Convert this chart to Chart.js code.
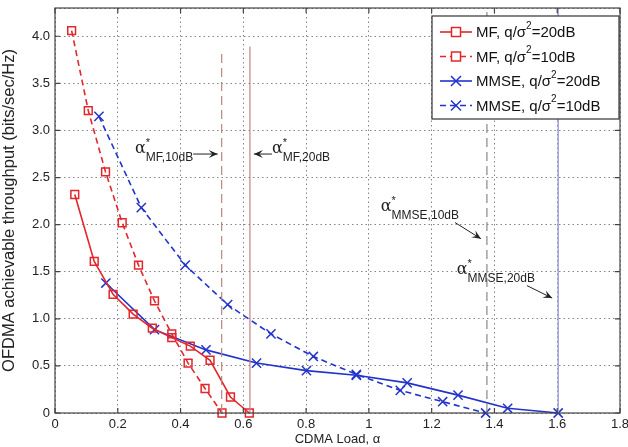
<!DOCTYPE html>
<html>
<head>
<meta charset="utf-8">
<script src="https://cdn.jsdelivr.net/npm/chart.js@4"></script>
<style>
  html, body { margin: 0; padding: 0; background: #fff; }
  #wrap { width: 628px; height: 447px; }
</style>
</head>
<body>
<div id="wrap"><canvas id="c" width="628" height="447"></canvas></div>
<script>
// ---------------------------------------------------------------------------
// DATA
// ---------------------------------------------------------------------------
const mf20X = [0.063, 0.125, 0.185, 0.249, 0.310, 0.372, 0.431, 0.494, 0.559, 0.619];
const mf20Y = [2.32, 1.61, 1.26, 1.05, 0.90, 0.80, 0.71, 0.56, 0.17, 0.0];

const mf10X = [0.053, 0.106, 0.161, 0.214, 0.266, 0.317, 0.372, 0.424, 0.478, 0.532];
const mf10Y = [4.06, 3.21, 2.56, 2.02, 1.57, 1.19, 0.84, 0.53, 0.26, 0.0];

const mmse20X = [0.162, 0.317, 0.481, 0.642, 0.801, 0.960, 1.122, 1.284, 1.442, 1.603];
const mmse20Y = [1.38, 0.885, 0.67, 0.53, 0.45, 0.40, 0.32, 0.19, 0.05, 0.0];

const mmse10X = [0.140, 0.275, 0.415, 0.550, 0.688, 0.823, 0.960, 1.100, 1.235, 1.372];
const mmse10Y = [3.15, 2.18, 1.57, 1.15, 0.84, 0.60, 0.41, 0.24, 0.12, 0.0];

// alpha* thresholds (vertical marker lines) and their top ends
const alphaStarX = [0.531, 0.621, 1.376, 1.603];
const alphaStarTop = [3.84, 3.89, 4.3, 4.3];

const seriesLabels = ['MF, q/σ|2|=20dB', 'MF, q/σ|2|=10dB', 'MMSE, q/σ|2|=20dB', 'MMSE, q/σ|2|=10dB'];

const xMin = 0, xMax = 1.8, xStep = 0.2;
const yMin = 0, yMax = 4.3, yStep = 0.5;

// ---------------------------------------------------------------------------
// helpers
// ---------------------------------------------------------------------------
const RED = '#e3262b';
const BLUE = '#2233cc';
const FONT = '"Liberation Sans", Arial, sans-serif';

function pts(xs, ys) {
    return xs.map((x, i) => ({ x: x, y: ys[i] }));
}

function curve(label, xs, ys, color, dashed, style) {
    return {
        label: label,
        data: pts(xs, ys),
        borderColor: color,
        backgroundColor: 'rgba(0,0,0,0)',
        borderWidth: 1.6,
        borderDash: dashed ? [6, 4] : [],
        pointStyle: style,
        pointRadius: style === 'rect' ? 5.5 : 6.5,
        pointBorderWidth: 1.5,
        pointBorderColor: color,
        pointBackgroundColor: 'rgba(0,0,0,0)',
        showLine: true,
        tension: 0,
        isCurve: true
    };
}

function vline(i, color, dashed, width) {
    return {
        label: 'vline' + i,
        data: [{ x: alphaStarX[i], y: 0 }, { x: alphaStarX[i], y: alphaStarTop[i] }],
        borderColor: color,
        borderWidth: width,
        borderDash: dashed ? [9, 5] : [],
        pointRadius: 0,
        showLine: true,
        isCurve: false
    };
}

// ---------------------------------------------------------------------------
// plugins
// ---------------------------------------------------------------------------

// box around plot area, like matlab "box on"
const frame = {
    id: 'frame',
    afterDatasetsDraw(chart) {
        const { ctx, chartArea: a } = chart;
        ctx.save();
        ctx.strokeStyle = '#444';
        ctx.lineWidth = 1.2;
        ctx.strokeRect(a.left, a.top, a.right - a.left, a.bottom - a.top);
        // inward ticks on all four edges
        const xs = chart.scales.x, ys = chart.scales.y;
        ctx.beginPath();
        for (let v = xMin; v <= xMax + 1e-9; v += xStep) {
            const px = xs.getPixelForValue(v);
            ctx.moveTo(px, a.bottom); ctx.lineTo(px, a.bottom - 5);
            ctx.moveTo(px, a.top); ctx.lineTo(px, a.top + 5);
        }
        for (let v = yMin; v <= 4.0 + 1e-9; v += yStep) {
            const py = ys.getPixelForValue(v);
            ctx.moveTo(a.left, py); ctx.lineTo(a.left + 5, py);
            ctx.moveTo(a.right, py); ctx.lineTo(a.right - 5, py);
        }
        ctx.stroke();
        ctx.restore();
    }
};

function arrowHead(ctx, x0, y0, x1, y1) {
    const ang = Math.atan2(y1 - y0, x1 - x0);
    const L = 9, W = 4;
    ctx.beginPath();
    ctx.moveTo(x1, y1);
    ctx.lineTo(x1 - L * Math.cos(ang) + W * Math.sin(ang), y1 - L * Math.sin(ang) - W * Math.cos(ang));
    ctx.lineTo(x1 - 0.6 * L * Math.cos(ang), y1 - 0.6 * L * Math.sin(ang));
    ctx.lineTo(x1 - L * Math.cos(ang) - W * Math.sin(ang), y1 - L * Math.sin(ang) + W * Math.cos(ang));
    ctx.closePath();
    ctx.fill();
}

function arrow(ctx, x0, y0, x1, y1) {
    ctx.beginPath();
    ctx.moveTo(x0, y0);
    ctx.lineTo(x1, y1);
    ctx.stroke();
    arrowHead(ctx, x0, y0, x1, y1);
}

// alpha* + subscript label; returns end x
function alphaLabel(ctx, x, y, sub) {
    ctx.font = '16px "DejaVu Serif", serif';
    ctx.fillText('α', x, y);
    let w = ctx.measureText('α').width;
    ctx.font = '11px ' + FONT;
    ctx.fillText('*', x + w, y - 7);
    ctx.font = '12px ' + FONT;
    ctx.fillText(sub, x + w, y + 8);
    return x + w + ctx.measureText(sub).width;
}

const notes = {
    id: 'notes',
    afterDatasetsDraw(chart) {
        const { ctx } = chart;
        const xs = chart.scales.x, ys = chart.scales.y;
        const X = v => xs.getPixelForValue(v), Y = v => ys.getPixelForValue(v);
        ctx.save();
        ctx.fillStyle = '#222';
        ctx.strokeStyle = '#222';
        ctx.lineWidth = 1;
        ctx.textBaseline = 'alphabetic';

        // MF 10dB
        let e = alphaLabel(ctx, X(0.255), Y(2.76), 'MF,10dB');
        arrow(ctx, e, Y(2.76) + 1, X(alphaStarX[0]) - 4, Y(2.76) + 1);
        // MF 20dB
        const sx = X(alphaStarX[1]) + 4;
        arrow(ctx, sx + 18, Y(2.76) + 1, sx, Y(2.76) + 1);
        alphaLabel(ctx, sx + 18, Y(2.76), 'MF,20dB');
        // MMSE 10dB
        e = alphaLabel(ctx, X(1.038), Y(2.15), 'MMSE,10dB');
        arrow(ctx, e - 4, Y(2.15) + 12, X(alphaStarX[2]) - 6, Y(1.85));
        // MMSE 20dB
        e = alphaLabel(ctx, X(1.28), Y(1.48), 'MMSE,20dB');
        arrow(ctx, e - 8, Y(1.48) + 12, X(alphaStarX[3]) - 6, Y(1.22));
        ctx.restore();
    }
};

// legend box inside the plot, top-right
const legendBox = {
    id: 'legendBox',
    afterDatasetsDraw(chart) {
        const { ctx, chartArea: a } = chart;
        const curves = chart.data.datasets.filter(d => d.isCurve);
        const x0 = 432, y0 = a.top + 8, w = a.right - 1 - x0, rowH = 24.5, h = 103;
        ctx.save();
        ctx.fillStyle = '#fff';
        ctx.fillRect(x0, y0, w, h);
        ctx.strokeStyle = '#333';
        ctx.lineWidth = 1.2;
        ctx.strokeRect(x0, y0, w, h);
        curves.forEach((d, i) => {
            const cy = y0 + 16 + i * rowH;
            const lx0 = x0 + 8, lx1 = x0 + 40, mx = (lx0 + lx1) / 2;
            ctx.strokeStyle = d.borderColor;
            ctx.lineWidth = 1.6;
            ctx.setLineDash(d.borderDash);
            ctx.beginPath();
            ctx.moveTo(lx0, cy); ctx.lineTo(lx1, cy);
            ctx.stroke();
            ctx.setLineDash([]);
            ctx.lineWidth = 1.5;
            if (d.pointStyle === 'rect') {
                ctx.fillStyle = '#fff';
                ctx.fillRect(mx - 4.5, cy - 4.5, 9, 9);
                ctx.strokeRect(mx - 4.5, cy - 4.5, 9, 9);
            } else {
                ctx.beginPath();
                ctx.moveTo(mx - 5, cy - 5); ctx.lineTo(mx + 5, cy + 5);
                ctx.moveTo(mx + 5, cy - 5); ctx.lineTo(mx - 5, cy + 5);
                ctx.stroke();
            }
            // label with superscript "2"
            const parts = d.label.split('|');
            let tx = x0 + 44;
            ctx.fillStyle = '#111';
            ctx.textBaseline = 'middle';
            ctx.font = '15px ' + FONT;
            ctx.fillText(parts[0], tx, cy + 1);
            tx += ctx.measureText(parts[0]).width;
            ctx.font = '10px ' + FONT;
            ctx.fillText(parts[1], tx, cy - 6);
            tx += ctx.measureText(parts[1]).width;
            ctx.font = '15px ' + FONT;
            ctx.fillText(parts[2], tx, cy + 1);
        });
        ctx.restore();
    }
};

// ---------------------------------------------------------------------------
// chart
// ---------------------------------------------------------------------------
const datasets = [
    vline(0, '#b48a7c', true, 1.2),
    vline(1, '#c98080', false, 1.2),
    vline(2, '#888888', true, 1.2),
    vline(3, '#9a9ae0', false, 1.4),
    curve(seriesLabels[0], mf20X, mf20Y, RED, false, 'rect'),
    curve(seriesLabels[1], mf10X, mf10Y, RED, true, 'rect'),
    curve(seriesLabels[2], mmse20X, mmse20Y, BLUE, false, 'crossRot'),
    curve(seriesLabels[3], mmse10X, mmse10Y, BLUE, true, 'crossRot')
];

const gridStyle = {
    color: '#666',
    lineWidth: 0.8,
    drawTicks: false
};
const borderStyle = { display: false, dash: [1.5, 3] };

new Chart(document.getElementById('c'), {
    type: 'scatter',
    data: { datasets: datasets },
    options: {
        responsive: false,
        animation: false,
        clip: false,
        layout: { padding: { top: 7, right: 6, left: 0, bottom: 0 } },
        plugins: {
            legend: { display: false },
            tooltip: { enabled: false }
        },
        scales: {
            x: {
                type: 'linear',
                min: xMin, max: xMax,
                ticks: {
                    stepSize: xStep,
                    padding: 4,
                    color: '#222',
                    font: { family: FONT, size: 13 },
                    callback: v => String(parseFloat(v.toFixed(1)))
                },
                grid: gridStyle,
                border: borderStyle,
                title: {
                    display: true,
                    text: 'CDMA Load, α',
                    color: '#222',
                    padding: { top: 0, bottom: 0 },
                    font: { family: FONT, size: 13 }
                },
                afterFit: s => { s.height = 34; s.paddingLeft = 0; s.paddingRight = 0; }
            },
            y: {
                type: 'linear',
                min: yMin, max: yMax,
                ticks: {
                    stepSize: yStep,
                    padding: 5,
                    color: '#222',
                    font: { family: FONT, size: 13 },
                    callback: v => (v === 0 ? '0' : (v > 4.01 ? '' : v.toFixed(1)))
                },
                grid: gridStyle,
                border: borderStyle,
                title: {
                    display: true,
                    text: 'OFDMA achievable throughput (bits/sec/Hz)',
                    color: '#222',
                    padding: { top: 0, bottom: 0 },
                    font: { family: FONT, size: 16.5 }
                },
                afterFit: s => { s.width = 55; s.paddingTop = 0; s.paddingBottom = 0; }
            }
        }
    },
    plugins: [frame, notes, legendBox]
});
</script>
</body>
</html>
